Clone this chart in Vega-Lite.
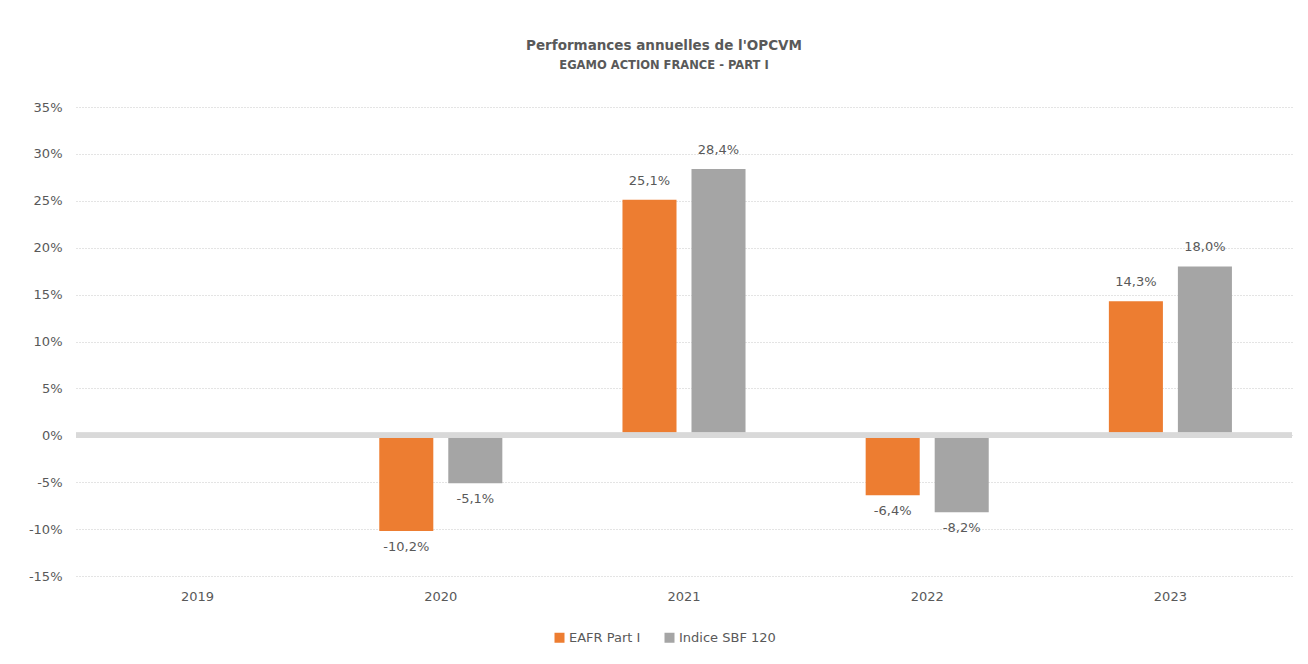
{
  "$schema": "https://vega.github.io/schema/vega-lite/v6.json",
  "width": 1216,
  "height": 469,
  "autosize": {"type": "none"},
  "padding": {"left": 76, "top": 107, "right": 16, "bottom": 88},
  "background": "white",
  "config": {
    "locale": {"number": {"decimal": ",", "thousands": " ", "grouping": [3], "currency": ["", " €"], "minus": "-", "percent": "%"}},
    "view": {"stroke": null},
    "font": "DejaVu Sans"
  },
  "title": {
    "text": "Performances annuelles de l'OPCVM",
    "subtitle": "EGAMO ACTION FRANCE - PART I",
    "anchor": "middle",
    "frame": "group",
    "dx": -20,
    "offset": 30,
    "fontSize": 13.5,
    "fontWeight": "bold",
    "color": "#595959",
    "subtitleFontSize": 11.5,
    "subtitleFontWeight": "bold",
    "subtitleColor": "#595959",
    "subtitlePadding": 7
  },
  "data": {
    "values": [
      {"year": "2020", "series": "EAFR Part I", "value": -0.102},
      {"year": "2020", "series": "Indice SBF 120", "value": -0.051},
      {"year": "2021", "series": "EAFR Part I", "value": 0.251},
      {"year": "2021", "series": "Indice SBF 120", "value": 0.284},
      {"year": "2022", "series": "EAFR Part I", "value": -0.064},
      {"year": "2022", "series": "Indice SBF 120", "value": -0.082},
      {"year": "2023", "series": "EAFR Part I", "value": 0.143},
      {"year": "2023", "series": "Indice SBF 120", "value": 0.180}
    ]
  },
  "layer": [
    {
      "mark": {"type": "bar"},
      "encoding": {
        "x": {"field": "year", "type": "nominal", "scale": {"domain": ["2019", "2020", "2021", "2022", "2023"], "paddingInner": 0.494, "paddingOuter": 0.247},
          "axis": {"title": null, "domain": false, "ticks": false, "labelAngle": 0, "labelFontSize": 13, "labelColor": "#595959", "labelPadding": 14}},
        "xOffset": {"field": "series", "type": "nominal", "scale": {"domain": ["EAFR Part I", "Indice SBF 120"], "paddingInner": 0.217, "paddingOuter": 0}},
        "y": {"field": "value", "type": "quantitative", "scale": {"domain": [-0.15, 0.35], "nice": false, "zero": false},
          "axis": {"title": null, "values": [-0.15, -0.1, -0.05, 0, 0.05, 0.1, 0.15, 0.2, 0.25, 0.3, 0.35], "format": ".0%", "domain": false, "ticks": false, "grid": true, "gridDash": [1, 2], "gridColor": "#C8C8C8", "labelFontSize": 13, "labelColor": "#595959", "labelPadding": 14}},
        "color": {"field": "series", "type": "nominal", "scale": {"domain": ["EAFR Part I", "Indice SBF 120"], "range": ["#ED7D31", "#A5A5A5"]},
          "legend": {"title": null, "orient": "none", "legendX": 477, "legendY": 524, "direction": "horizontal", "symbolType": "square", "symbolSize": 100, "symbolStrokeWidth": 0, "labelFontSize": 13, "labelColor": "#595959", "columnPadding": 22, "labelOffset": 3}}
      }
    },
    {
      "transform": [{"filter": "datum.value >= 0"}],
      "mark": {"type": "text", "baseline": "bottom", "dy": -12, "fontSize": 13, "color": "#595959"},
      "encoding": {
        "x": {"field": "year", "type": "nominal"},
        "xOffset": {"field": "series", "type": "nominal"},
        "y": {"field": "value", "type": "quantitative"},
        "text": {"field": "value", "type": "quantitative", "format": ".1%"}
      }
    },
    {
      "transform": [{"filter": "datum.value < 0"}],
      "mark": {"type": "text", "baseline": "top", "dy": 10, "fontSize": 13, "color": "#595959"},
      "encoding": {
        "x": {"field": "year", "type": "nominal"},
        "xOffset": {"field": "series", "type": "nominal"},
        "y": {"field": "value", "type": "quantitative"},
        "text": {"field": "value", "type": "quantitative", "format": ".1%"}
      }
    },
    {
      "mark": {"type": "rule", "color": "#D9D9D9", "strokeWidth": 5},
      "encoding": {"y": {"datum": 0}}
    }
  ]
}
